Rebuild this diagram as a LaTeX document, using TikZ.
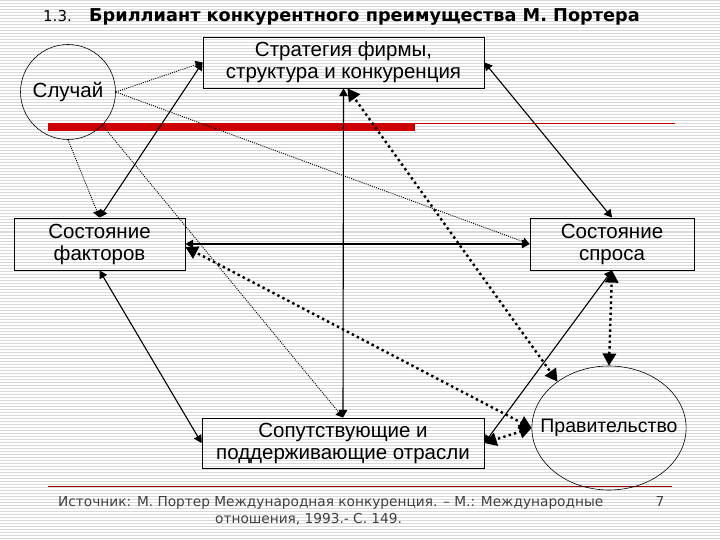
\documentclass[tikz,border=0pt]{standalone}
\usepackage{fontspec}
\setmainfont{Liberation Sans}
\newfontfamily\verdana{DejaVu Sans}
\usepackage{tikz}
\usetikzlibrary{shapes}
\usetikzlibrary{shapes.geometric}
\usetikzlibrary{arrows}
\usetikzlibrary{positioning}

\begin{document}
\begin{tikzpicture}[
        x=1pt, y=-1pt,
        every node/.style={inner sep=0pt, align=center, font=\fontsize{20.5}{22}\selectfont},
        >=triangle 60
        ]
        \tikzstyle{box} = [draw, rectangle, line width=0.9pt];
        \tikzstyle{chance} = [draw, circle, line width=0.6pt];
        \tikzstyle{gov} = [draw, ellipse, line width=0.6pt, inner xsep=-14pt, font=\fontsize{19.5}{22}\selectfont];
        \tikzstyle{link} = [line width=1.1pt, <->];
        \tikzstyle{hint} = [line width=0.9pt, dash pattern=on 1pt off 1.2pt, ->];
        \tikzstyle{govlink} = [line width=2.4pt, dash pattern=on 2.4pt off 3.2pt, <->];
        \useasboundingbox (0,0) rectangle (720,540);
        % background stripes
        \foreach \y in {1,4,...,539}
            \draw[gray!30, line width=1pt] (0,\y) -- (720,\y);

        \node[anchor=base west, font=\verdana\fontsize{15}{18}\selectfont] (num) at (43,22) {1.3.};
        \node[anchor=base west, font=\verdana\bfseries\fontsize{17.7}{20}\selectfont] (title) at (89,22)
            {Бриллиант конкурентного преимущества М. Портера};

        \fill[red!80!black] (48,123) rectangle (415,131);
        \draw[red!75!black, line width=0.8pt] (415,123.5) -- (675,123.5);
        \draw[red!60!black, line width=0.8pt] (48,486) -- (672,486);

        \node[box, minimum width=281, minimum height=51] (strat) at (343.5,62.5) {Стратегия фирмы,\\структура и конкуренция};
        \node[chance, minimum size=95] (chance) at (68,92) {Случай};
        \node[box, minimum width=171, minimum height=52] (factors) at (99.5,244) {Состояние\\факторов};
        \node[box, minimum width=164, minimum height=52] (demand) at (612,244) {Состояние\\спроса};
        \node[box, minimum width=282, minimum height=50] (related) at (343,443) {Сопутствующие и\\поддерживающие отрасли};
        \node[gov, minimum width=146, minimum height=124] (gov) at (609,428) {Правительство};

        \draw[hint] (chance.east) -- (strat.west);
        \draw[hint] (chance.east) -- (demand.west);
        \draw[hint] (chance.south) -- (factors.north);
        \draw[hint] (chance.-44) -- (related.north);

        \draw[link] (factors.north) -- (strat.west);
        \draw[link] (strat.east) -- (demand.north);
        \draw[link] (strat.south) -- (related.north);
        \draw[link] (factors.east) -- (demand.west);
        \draw[link] (factors.south) -- (related.west);
        \draw[link] (demand.south) -- (related.east);

        \draw[govlink] ([xshift=4pt]strat.south) -- (gov.138);
        \draw[govlink] ([yshift=-3pt]factors.east) -- (gov.west);
        \draw[govlink] (demand.south) -- (gov.north);
        \draw[govlink] (related.east) -- (gov.west);

        \node[anchor=west, align=left, font=\verdana\fontsize{13.7}{17.5}\selectfont, text=black!75] (source) at (58,511)
            {Источник: М. Портер Международная конкуренция. – М.: Международные\\\hspace*{157pt}отношения, 1993.- С. 149.};
        \node[font=\verdana\fontsize{13.7}{17.5}\selectfont, text=black!75] (page) at (660,502) {7};
    \end{tikzpicture}
\end{document}
